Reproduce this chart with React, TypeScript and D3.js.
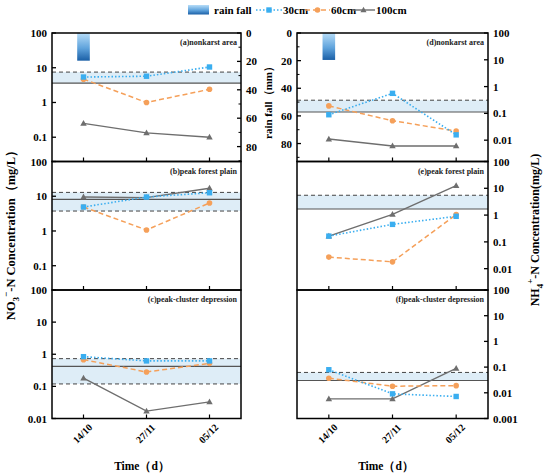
import * as d3 from "d3";

const dates = ["14/10", "27/11", "05/12"];
const rainFall = [19.5, 0, 0];
const rainTicks = [0, 20, 40, 60, 80];

// NO3- (left column)
const no3A30 = [5.4, 5.7, 10.5];
const no3A60 = [4.7, 1.0, 2.4];
const no3A100 = [0.25, 0.133, 0.1];
const no3B30 = [4.9, 9.5, 12.6];
const no3B60 = [4.9, 1.07, 6.4];
const no3B100 = [9.5, 9.1, 17];
const no3C30 = [0.84, 0.62, 0.62];
const no3C60 = [0.68, 0.28, 0.52];
const no3C100 = [0.18, 0.017, 0.033];

// NH4+ (right column)
const nh4D30 = [0.089, 0.56, 0.0158];
const nh4D60 = [0.19, 0.053, 0.022];
const nh4D100 = [0.011, 0.0061, 0.0061];
const nh4E30 = [0.164, 0.45, 0.9];
const nh4E60 = [0.027, 0.018, 1.05];
const nh4E100 = [0.164, 1.06, 12.6];
const nh4F30 = [0.079, 0.0091, 0.0072];
const nh4F60 = [0.037, 0.018, 0.019];
const nh4F100 = [0.0058, 0.0058, 0.089];

// reference band: [upper dashed, mean solid, lower dashed or null]
const bandA = [7.5, 3.6, null];
const bandB = [12.9, 8.1, 3.75];
const bandC = [0.73, 0.42, 0.119];
const bandD = [0.31, 0.112, null];
const bandE = [5.5, 1.68, null];
const bandF = [0.062, 0.03, null];

const labelsA = ["100", "10", "1", "0.1"];
const labelsC = ["100", "10", "1", "0.1", "0.01"];
const labelsF = ["100", "10", "1", "0.1", "0.01", "0.001"];

const C30 = "#3aaef0";
const C60 = "#f5a05a";
const C100 = "#6e6e6e";
const FONT = "'Liberation Serif', 'Times New Roman', serif";

type Panel = {
  side: "left" | "right";
  row: number;
  domain: [number, number];
  labels: string[];
  s30: number[];
  s60: number[];
  s100: number[];
  band: (number | null)[];
  title: string;
  rain?: number;
};

const panels: Panel[] = [
  { side: "left", row: 0, domain: [0.02, 100], labels: labelsA, s30: no3A30, s60: no3A60, s100: no3A100, band: bandA, title: "(a)nonkarst area", rain: 90.5 },
  { side: "left", row: 1, domain: [0.02, 100], labels: labelsA, s30: no3B30, s60: no3B60, s100: no3B100, band: bandB, title: "(b)peak forest plain" },
  { side: "left", row: 2, domain: [0.01, 100], labels: labelsC, s30: no3C30, s60: no3C60, s100: no3C100, band: bandC, title: "(c)peak-cluster depression" },
  { side: "right", row: 0, domain: [0.0016, 100], labels: labelsC, s30: nh4D30, s60: nh4D60, s100: nh4D100, band: bandD, title: "(d)nonkarst area", rain: 93 },
  { side: "right", row: 1, domain: [0.0016, 100], labels: labelsC, s30: nh4E30, s60: nh4E60, s100: nh4E100, band: bandE, title: "(e)peak forest plain" },
  { side: "right", row: 2, domain: [0.001, 100], labels: labelsF, s30: nh4F30, s60: nh4F60, s100: nh4F100, band: bandF, title: "(f)peak-cluster depression" },
];

const cols = { left: [52, 241], right: [297, 488] };
const rows = [[33, 161.5], [161.5, 290], [290, 418.5]];

function tri(cx: number, cy: number, r: number) {
  return `M${cx},${cy - r}L${cx + r * 0.95},${cy + r * 0.7}L${cx - r * 0.95},${cy + r * 0.7}Z`;
}

function PanelView({ p }: { p: Panel }) {
  const [x0, x1] = cols[p.side];
  const [y0, y1] = rows[p.row];
  const x = d3.scalePoint<string>().domain(dates).range([x0, x1]).padding(0.5);
  const y = d3.scaleLog().domain(p.domain).range([y1, y0]);
  const line = d3
    .line<number>()
    .x((_, i) => x(dates[i])!)
    .y((d) => y(d));
  const [up, mean, low] = p.band;
  const bandBottom = low ?? mean!;
  const isLeft = p.side === "left";
  const axisX = isLeft ? x0 : x1;
  const dir = isLeft ? 1 : -1; // inward direction for concentration axis

  let rainEls = null;
  if (p.rain) {
    const ry = d3.scaleLinear().domain([0, p.rain]).range([y0, y1]);
    const rAxisX = isLeft ? x1 : x0;
    const rDir = isLeft ? -1 : 1;
    const minor = d3.range(10, p.rain, 20);
    rainEls = (
      <g>
        {rainFall.map((v, i) =>
          v > 0 ? (
            <rect
              key={i}
              x={x(dates[i])! - 6.3}
              y={ry(0)}
              width={12.6}
              height={ry(v) - ry(0)}
              fill="url(#rainGrad)"
            />
          ) : null,
        )}
        {rainTicks.map((t) => (
          <g key={t}>
            <line x1={rAxisX} x2={rAxisX + rDir * 4} y1={ry(t)} y2={ry(t)} stroke="#000" strokeWidth={1.3} />
            <text
              x={rAxisX - rDir * 5}
              y={ry(t) + 4}
              textAnchor={isLeft ? "start" : "end"}
              fontSize={11}
              fontWeight="bold"
            >
              {t}
            </text>
          </g>
        ))}
        {minor.map((t) => (
          <line key={t} x1={rAxisX} x2={rAxisX + rDir * 2.5} y1={ry(t)} y2={ry(t)} stroke="#000" strokeWidth={1} />
        ))}
      </g>
    );
  }

  return (
    <g>
      <rect x={x0} y={y(up!)} width={x1 - x0} height={y(bandBottom) - y(up!)} fill="#deedf7" />
      <line x1={x0} x2={x1} y1={y(up!)} y2={y(up!)} stroke="#444" strokeWidth={1} strokeDasharray="4 3" />
      {low != null && (
        <line x1={x0} x2={x1} y1={y(low)} y2={y(low)} stroke="#444" strokeWidth={1} strokeDasharray="4 3" />
      )}
      <line x1={x0} x2={x1} y1={y(mean!)} y2={y(mean!)} stroke="#555" strokeWidth={1.1} />
      {rainEls}
      <text x={x1 - 4} y={y0 + 12} textAnchor="end" fontSize={8} fontWeight="bold" fill="#222">
        {p.title}
      </text>

      <path d={line(p.s100)!} fill="none" stroke={C100} strokeWidth={1.4} />
      <path d={line(p.s60)!} fill="none" stroke={C60} strokeWidth={1.5} strokeDasharray="5 3" />
      <path d={line(p.s30)!} fill="none" stroke={C30} strokeWidth={1.6} strokeDasharray="1.5 2" />
      {p.s100.map((v, i) => (
        <path key={"t" + i} d={tri(x(dates[i])!, y(v), 3.4)} fill={C100} />
      ))}
      {p.s60.map((v, i) => (
        <circle key={"c" + i} cx={x(dates[i])!} cy={y(v)} r={2.8} fill={C60} />
      ))}
      {p.s30.map((v, i) => (
        <rect key={"s" + i} x={x(dates[i])! - 2.7} y={y(v) - 2.7} width={5.4} height={5.4} fill={C30} />
      ))}

      {p.labels.map((l) => {
        const v = +l;
        return (
          <g key={l}>
            <line x1={axisX} x2={axisX + dir * 4} y1={y(v)} y2={y(v)} stroke="#000" strokeWidth={1.3} />
            <text
              x={axisX - dir * 5}
              y={y(v) + 4}
              textAnchor={isLeft ? "end" : "start"}
              fontSize={11}
              fontWeight="bold"
            >
              {l}
            </text>
          </g>
        );
      })}
      {dates.map((d) => (
        <line key={d} x1={x(d)!} x2={x(d)!} y1={y1} y2={y1 - 4} stroke="#000" strokeWidth={1.2} />
      ))}
      {p.row === 2 &&
        dates.map((d) => (
          <text
            key={"l" + d}
            transform={`translate(${x(d)! - 1},${y1 + 15}) rotate(-45)`}
            textAnchor="middle"
            dy="0.35em"
            fontSize={10}
            fontWeight="bold"
          >
            {d}
          </text>
        ))}
      <rect x={x0} y={y0} width={x1 - x0} height={y1 - y0} fill="none" stroke="#000" strokeWidth={1.5} />
    </g>
  );
}

function Legend() {
  const cy = 10;
  return (
    <g fontSize={11} fontWeight="bold">
      <rect x={188} y={5} width={21} height={9.5} fill="url(#rainGrad)" />
      <text x={214} y={cy + 4}>rain fall</text>
      <line x1={256} x2={282} y1={cy} y2={cy} stroke={C30} strokeWidth={1.6} strokeDasharray="1.5 2" />
      <rect x={266.3} y={cy - 2.7} width={5.4} height={5.4} fill={C30} />
      <text x={283} y={cy + 4}>30cm</text>
      <line x1={305} x2={330} y1={cy} y2={cy} stroke={C60} strokeWidth={1.5} strokeDasharray="5 3" />
      <circle cx={317.5} cy={cy} r={2.8} fill={C60} />
      <text x={331} y={cy + 4}>60cm</text>
      <line x1={352} x2={375} y1={cy} y2={cy} stroke={C100} strokeWidth={1.4} />
      <path d={tri(363.5, cy, 3.2)} fill={C100} />
      <text x={376} y={cy + 4}>100cm</text>
    </g>
  );
}

export default function App() {
  return (
    <svg
      width={550}
      height={475}
      style={{ position: "absolute", left: 0, top: 0, background: "#fff" }}
      fontFamily={FONT}
    >
      <defs>
        <linearGradient id="rainGrad" x1="0" y1="0" x2="0" y2="1">
          <stop offset="0%" stopColor="#b7ddf8" />
          <stop offset="55%" stopColor="#5fa3dc" />
          <stop offset="100%" stopColor="#1a5fa6" />
        </linearGradient>
      </defs>
      <rect width={550} height={475} fill="#fff" />
      <Legend />
      {panels.map((p, i) => (
        <PanelView key={i} p={p} />
      ))}
      <text
        transform="translate(268,100) rotate(-90)"
        textAnchor="middle"
        dy="0.35em"
        fontSize={11}
        fontWeight="bold"
      >
        rain fall（mm）
      </text>
      <text
        transform="translate(11,232) rotate(-90)"
        textAnchor="middle"
        dy="0.35em"
        fontSize={12.5}
        fontWeight="bold"
      >
        NO<tspan fontSize={9} dy="4">3</tspan>
        <tspan fontSize={9} dy="-10">−</tspan>
        <tspan dy="6">-N Concentration（mg/L）</tspan>
      </text>
      <text
        transform="translate(535,230) rotate(-90)"
        textAnchor="middle"
        dy="0.35em"
        fontSize={12}
        fontWeight="bold"
      >
        NH<tspan fontSize={9} dy="4">4</tspan>
        <tspan fontSize={9} dy="-10">+</tspan>
        <tspan dy="6">-N Concentration(mg/L)</tspan>
      </text>
      <text x={142} y={470} textAnchor="middle" fontSize={11.5} fontWeight="bold">
        Time（d）
      </text>
      <text x={386} y={470} textAnchor="middle" fontSize={11.5} fontWeight="bold">
        Time（d）
      </text>
    </svg>
  );
}
